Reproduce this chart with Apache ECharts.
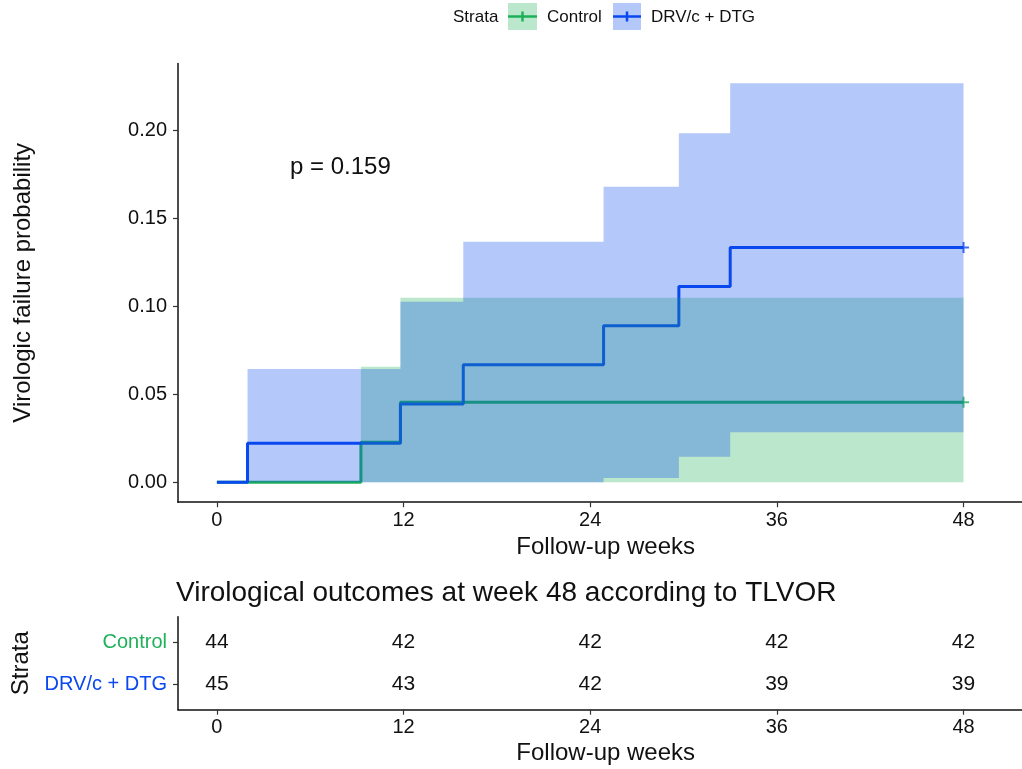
<!DOCTYPE html>
<html><head><meta charset="utf-8">
<script src="https://cdn.jsdelivr.net/npm/echarts@6/dist/echarts.min.js"></script>
<style>html,body{margin:0;padding:0;background:#fff}#c{width:1022px;height:769px}</style>
</head><body><div id="c"></div>
<script>
// ---------- data ----------
const strata = ['Control', 'DRV/c + DTG'];
const xTicks = [0, 12, 24, 36, 48];
const yTicks = [0, 0.05, 0.10, 0.15, 0.20];

// Kaplan-Meier cumulative failure estimates (step change times)
const controlTimes = [0, 9.26, 11.8, 48];
const controlEst   = [0, 0.0227, 0.0455, 0.0455];
const drvTimes     = [0, 1.97, 11.8, 15.84, 24.86, 29.7, 33.0, 48];
const drvEst       = [0, 0.0222, 0.0444, 0.0667, 0.0889, 0.1111, 0.1333, 0.1333];

// Confidence bands (value held from time[i] to time[i+1])
const controlLower = [0, 0, 0, 0];
const controlUpper = [0, 0.0656, 0.1048, 0.1048];
const drvLower     = [0, 0, 0, 0, 0.0024, 0.0145, 0.0284, 0.0284];
const drvUpper     = [0, 0.0643, 0.1025, 0.1366, 0.1678, 0.1981, 0.2265, 0.2265];

const censorTime = 48;
const riskTimes   = [0, 12, 24, 36, 48];
const controlRisk = [44, 42, 42, 42, 42];
const drvRisk     = [45, 43, 42, 39, 39];
const pValueText  = 'p = 0.159';

// ---------- styling ----------
const FONT = 'Liberation Sans, Arial, Helvetica, sans-serif';
const GREEN = '#1fb05a', BLUE = '#0a48f0';
const GREEN_FILL = 'rgba(31,176,90,0.3)', BLUE_FILL = 'rgba(10,72,240,0.3)';
const TXT = '#111';
const PLUS = 'path://M0,4.1H10V5.9H0Z M4.1,0H5.9V10H4.1Z';

function bandSeries(name, times, lower, upper, fill) {
  return {
    type: 'custom', name: name, xAxisIndex: 0, yAxisIndex: 0, z: 5, clip: true, silent: true,
    data: times.map((t, i) => [t, lower[i], upper[i]]),
    encode: { x: 0, y: [1, 2] },
    renderItem: function (params, api) {
      if (params.dataIndex !== 0) return null;
      const pts = [];
      for (let i = 0; i < times.length - 1; i++) {
        pts.push(api.coord([times[i], upper[i]]));
        pts.push(api.coord([times[i + 1], upper[i]]));
      }
      for (let i = times.length - 2; i >= 0; i--) {
        pts.push(api.coord([times[i + 1], lower[i]]));
        pts.push(api.coord([times[i], lower[i]]));
      }
      return { type: 'polygon', shape: { points: pts }, style: { fill: fill } };
    }
  };
}
function kmLine(name, times, est, color) {
  return {
    type: 'line', name: name, step: 'end', xAxisIndex: 0, yAxisIndex: 0, z: 2,
    data: times.map((t, i) => [t, est[i]]),
    showSymbol: false, symbol: 'none',
    lineStyle: { color: color, width: 3 }, itemStyle: { color: color }
  };
}
function censor(name, est, color) {
  return {
    type: 'scatter', name: name, xAxisIndex: 0, yAxisIndex: 0, z: 3,
    data: [[censorTime, est[est.length - 1]]],
    symbol: PLUS, symbolSize: 11, itemStyle: { color: color }
  };
}
function riskSeries(vals, row) {
  return {
    type: 'custom', xAxisIndex: 1, yAxisIndex: 1, silent: true,
    data: riskTimes.map((t, i) => [t, row, vals[i]]),
    encode: { x: 0, y: 1 },
    renderItem: function (params, api) {
      const p = api.coord([api.value(0), api.value(1)]);
      return { type: 'text', x: p[0], y: p[1],
               style: { text: String(api.value(2)), fontSize: 21, fontFamily: FONT, fill: TXT,
                        align: 'center', verticalAlign: 'middle' } };
    }
  };
}
const xAxisCommon = {
  type: 'value', min: -2.5, max: 51.76,
  axisLine: { show: true, onZero: false, lineStyle: { color: '#111', width: 1.5 } },
  axisTick: { show: true, length: 5, customValues: xTicks, lineStyle: { color: '#333', width: 1.2 } },
  axisLabel: { customValues: xTicks, margin: 8, color: TXT, fontSize: 20, fontFamily: FONT },
  splitLine: { show: false },
  name: 'Follow-up weeks', nameLocation: 'middle',
  nameTextStyle: { fontSize: 24, color: TXT, fontFamily: FONT, padding: [0, 0, 0, 11.4] }
};

const chart = echarts.init(document.getElementById('c'), null, { renderer: 'canvas' });
chart.setOption({
  animation: false,
  backgroundColor: '#fff',
  textStyle: { fontFamily: FONT },
  title: {
    text: 'Virological outcomes at week 48 according to TLVOR',
    left: 176, top: 579, padding: 0,
    textStyle: { fontSize: 28, fontWeight: 'normal', color: TXT, fontFamily: FONT }
  },
  grid: [
    { left: 178, top: 63.4, right: 0, height: 438.8 },
    { left: 178, top: 616.7, right: 0, height: 93 }
  ],
  xAxis: [
    Object.assign({}, xAxisCommon, { gridIndex: 0, nameGap: 33 }),
    Object.assign({}, xAxisCommon, { gridIndex: 1, nameGap: 32 })
  ],
  yAxis: [
    {
      gridIndex: 0, type: 'value', min: -0.0113, max: 0.2378,
      axisLine: { show: true, onZero: false, lineStyle: { color: '#111', width: 1.5 } },
      axisTick: { show: true, length: 5, customValues: yTicks, lineStyle: { color: '#333', width: 1.2 } },
      axisLabel: { customValues: yTicks, margin: 11, color: TXT, fontSize: 20, fontFamily: FONT,
                   formatter: v => v.toFixed(2) },
      splitLine: { show: false },
      name: 'Virologic failure probability', nameLocation: 'middle', nameGap: 143,
      nameTextStyle: { fontSize: 24, color: TXT, fontFamily: FONT }
    },
    {
      gridIndex: 1, type: 'value', inverse: true, min: 0.4, max: 2.6,
      axisLine: { show: true, onZero: false, lineStyle: { color: '#111', width: 1.5 } },
      axisTick: { show: true, length: 5, customValues: [1, 2], lineStyle: { color: '#333', width: 1.2 } },
      axisLabel: { customValues: [1, 2], margin: 11, fontSize: 20, fontFamily: FONT,
                   formatter: v => (Math.round(v) === 1 ? '{a|' + strata[0] + '}' : '{b|' + strata[1] + '}'),
                   rich: { a: { color: GREEN, fontSize: 20, fontFamily: FONT },
                           b: { color: BLUE, fontSize: 20, fontFamily: FONT } } },
      splitLine: { show: false },
      name: 'Strata', nameLocation: 'middle', nameGap: 143,
      nameTextStyle: { fontSize: 24, color: TXT, fontFamily: FONT }
    }
  ],
  series: [
    kmLine(strata[0], controlTimes, controlEst, GREEN),
    kmLine(strata[1], drvTimes, drvEst, BLUE),
    censor(strata[0], controlEst, GREEN),
    censor(strata[1], drvEst, BLUE),
    bandSeries(strata[0] + ' CI', controlTimes, controlLower, controlUpper, GREEN_FILL),
    bandSeries(strata[1] + ' CI', drvTimes, drvLower, drvUpper, BLUE_FILL),
    riskSeries(controlRisk, 1),
    riskSeries(drvRisk, 2)
  ],
  graphic: [
    { type: 'text', x: 290, y: 167, z: 10,
      style: { text: pValueText, fontSize: 24, fontFamily: FONT, fill: TXT, align: 'left', verticalAlign: 'middle' } },
    // legend
    { type: 'text', x: 453, y: 17.5,
      style: { text: 'Strata', fontSize: 17, fontFamily: FONT, fill: TXT, align: 'left', verticalAlign: 'middle' } },
    { type: 'line', shape: { x1: 508, y1: 16.5, x2: 537, y2: 16.5 }, style: { stroke: GREEN, lineWidth: 2.5 } },
    { type: 'line', shape: { x1: 522.5, y1: 11.5, x2: 522.5, y2: 21.5 }, style: { stroke: GREEN, lineWidth: 2.5 } },
    { type: 'rect', shape: { x: 508, y: 3, width: 29, height: 27 }, style: { fill: GREEN_FILL } },
    { type: 'text', x: 547, y: 17.5,
      style: { text: strata[0], fontSize: 17, fontFamily: FONT, fill: TXT, align: 'left', verticalAlign: 'middle' } },
    { type: 'line', shape: { x1: 613, y1: 16.5, x2: 641, y2: 16.5 }, style: { stroke: BLUE, lineWidth: 2.5 } },
    { type: 'line', shape: { x1: 627, y1: 11.5, x2: 627, y2: 21.5 }, style: { stroke: BLUE, lineWidth: 2.5 } },
    { type: 'rect', shape: { x: 613, y: 3, width: 28, height: 27 }, style: { fill: BLUE_FILL } },
    { type: 'text', x: 651, y: 17.5,
      style: { text: strata[1], fontSize: 17, fontFamily: FONT, fill: TXT, align: 'left', verticalAlign: 'middle' } }
  ]
});
</script>
</body></html>
